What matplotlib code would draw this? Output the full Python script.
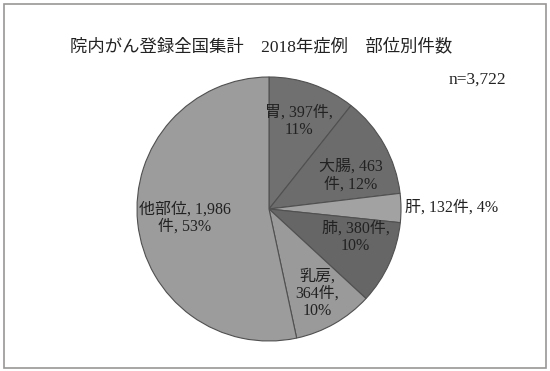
import matplotlib
matplotlib.use('Agg')
import numpy as np
from matplotlib import pyplot as plt
from matplotlib.patches import Rectangle

plt.rcParams['font.family'] = ['Liberation Serif', 'Noto Sans CJK JP']

# データ
sites = ['胃', '大腸', '肝', '肺', '乳房', '他部位']
counts = [397, 463, 132, 380, 364, 1986]
percents = [11, 12, 4, 10, 10, 53]
colors = ['#707070', '#6c6c6c', '#a2a2a2', '#666666', '#9a9a9a', '#9c9c9c']
title = '院内がん登録全国集計　2018年症例　部位別件数'
n_text = 'n=3,722'

# ラベル文字列（改行位置は元図に合わせる）
labels = [
    '胃, 397件,\n11%',
    '大腸, 463\n件, 12%',
    '肝, 132件, 4%',
    '肺, 380件,\n10%',
    '乳房,\n364件,\n10%',
    '他部位, 1,986\n件, 53%',
]
# ラベル位置（半径比, 角度のずれ）
label_r = [0.70, 0.67, 1.03, 0.69, 0.74, 0.64]
label_shift = [0, 7, 0, -6, 0, 0]

W, H = 550, 371
fig = plt.figure(figsize=(W / 100, H / 100), dpi=100)

# 外枠
fig.patches.append(Rectangle((4 / W, 3 / H), 542 / W, 364 / H,
                             transform=fig.transFigure, fill=False,
                             edgecolor='#9a9696', linewidth=1.2))

cx, cy, r = 269, 371 - 209, 132
ax = fig.add_axes([(cx - r) / W, (cy - r) / H, 2 * r / W, 2 * r / H])
wedges, _ = ax.pie(counts, colors=colors, startangle=90, counterclock=False,
                   wedgeprops=dict(edgecolor='#505050', linewidth=0.8))
ax.set_xlim(-1, 1)
ax.set_ylim(-1, 1)
ax.set_aspect('auto')
ax.axis('off')

for w, lab, d, s in zip(wedges, labels, label_r, label_shift):
    ang = np.deg2rad((w.theta1 + w.theta2) / 2 - s)
    x, y = d * np.cos(ang), d * np.sin(ang)
    ha = 'left' if d > 1 else 'center'
    ax.text(x, y, lab, ha=ha, va='center', fontsize=11.5, color='#222222',
            linespacing=1.1, multialignment='center')

fig.text(261 / W, 1 - 47 / H, title, ha='center', va='center',
         fontsize=12.5, color='#222222')
fig.text(506 / W, 1 - 80 / H, n_text, ha='right', va='center',
         fontsize=12.5, color='#222222')

fig.savefig('out.png', dpi=100)
